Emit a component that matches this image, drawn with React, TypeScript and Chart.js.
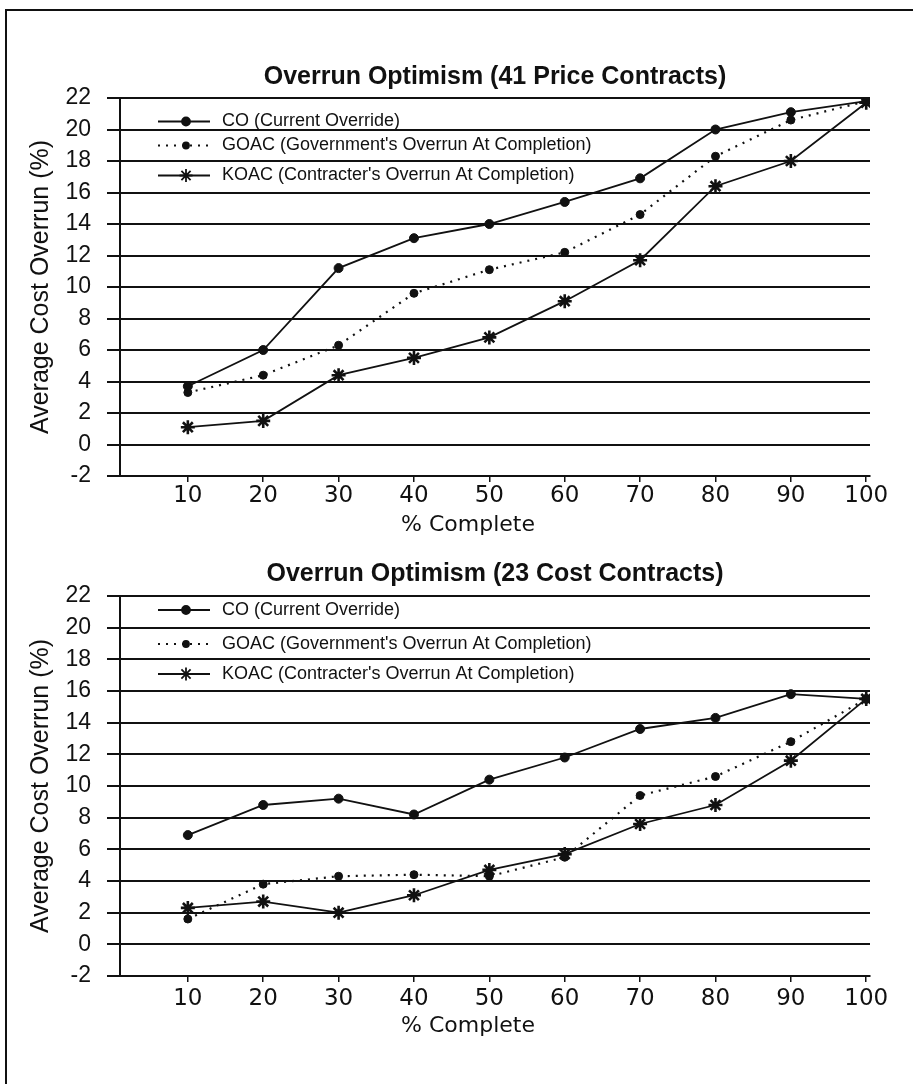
import { useEffect, useRef } from "react";
import { Chart, registerables } from "chart.js";
import type { Plugin } from "chart.js";
import { drawPoint } from "chart.js/helpers";

Chart.register(...registerables);

// values
const percentComplete = [10, 20, 30, 40, 50, 60, 70, 80, 90, 100];

const seriesLabels = [
	"CO (Current Override)",
	"GOAC (Government's Overrun At Completion)",
	"KOAC (Contracter's Overrun At Completion)",
];

const priceCO = [3.7, 6.0, 11.2, 13.1, 14.0, 15.4, 16.9, 20.0, 21.1, 21.8];
const priceGOAC = [3.3, 4.4, 6.3, 9.6, 11.1, 12.2, 14.6, 18.3, 20.6, 21.8];
const priceKOAC = [1.1, 1.5, 4.4, 5.5, 6.8, 9.1, 11.7, 16.4, 18.0, 21.7];

const costCO = [6.9, 8.8, 9.2, 8.2, 10.4, 11.8, 13.6, 14.3, 15.8, 15.5];
const costGOAC = [1.6, 3.8, 4.3, 4.4, 4.3, 5.5, 9.4, 10.6, 12.8, 15.5];
const costKOAC = [2.3, 2.7, 2.0, 3.1, 4.7, 5.7, 7.6, 8.8, 11.6, 15.5];

const yMin = -2;
const yMax = 22;
const yStep = 2;

const INK = "#111";

const toPoints = (values: number[]) => percentComplete.map((x, i) => ({ x, y: values[i] }));

// legend drawn inside the plot, line sample + marker + text
const insideLegend: Plugin = {
	id: "insideLegend",
	afterDatasetsDraw(chart, _args, opts: any) {
		const { ctx, chartArea } = chart;
		ctx.save();
		chart.data.datasets.forEach((ds: any, i) => {
			const y = chartArea.top + opts.rows[i];
			const x0 = chartArea.left + 38;
			const x1 = chartArea.left + 90;
			ctx.strokeStyle = INK;
			ctx.fillStyle = INK;
			ctx.lineWidth = ds.borderWidth;
			ctx.setLineDash(ds.borderDash || []);
			ctx.beginPath();
			ctx.moveTo(x0, y);
			ctx.lineTo(x1, y);
			ctx.stroke();
			ctx.setLineDash([]);
			drawPoint(
				ctx,
				{
					pointStyle: ds.pointStyle,
					radius: ds.legendRadius,
					rotation: 0,
					borderWidth: ds.pointBorderWidth,
				},
				chartArea.left + 66,
				y,
			);
			ctx.font = "18px 'Liberation Sans', Arial, sans-serif";
			ctx.textAlign = "left";
			ctx.textBaseline = "middle";
			ctx.fillText(ds.label, chartArea.left + 102, y);
		});
		ctx.restore();
	},
};

const xAxisTitle: Plugin = {
	id: "xAxisTitle",
	afterDraw(chart, _args, opts: any) {
		const { ctx, chartArea } = chart;
		ctx.save();
		ctx.fillStyle = INK;
		ctx.font = "22px 'DejaVu Sans', sans-serif";
		ctx.textAlign = "center";
		ctx.textBaseline = "alphabetic";
		ctx.fillText(opts.text, (chartArea.left + chartArea.right) / 2 - 27, chartArea.bottom + opts.offset);
		ctx.restore();
	},
};

interface OverrunChartProps {
	title: string;
	co: number[];
	goac: number[];
	koac: number[];
	top: number;
	titlePadding: { top: number; bottom: number };
	legendRows: number[];
	tickPadding: number;
	xTitleOffset: number;
}

function OverrunChart({ title, co, goac, koac, top, titlePadding, legendRows, tickPadding, xTitleOffset }: OverrunChartProps) {
	const canvasRef = useRef<HTMLCanvasElement | null>(null);

	useEffect(() => {
		if (!canvasRef.current) {
			return;
		}

		const chart = new Chart(canvasRef.current, {
			type: "line",
			data: {
				datasets: [
					{
						label: seriesLabels[0],
						data: toPoints(co),
						borderColor: INK,
						backgroundColor: INK,
						borderWidth: 1.8,
						pointStyle: "circle",
						pointRadius: 4.5,
						pointBorderWidth: 1,
						legendRadius: 4,
					} as any,
					{
						label: seriesLabels[1],
						data: toPoints(goac),
						borderColor: INK,
						backgroundColor: INK,
						borderWidth: 2.2,
						borderDash: [2, 6],
						pointStyle: "circle",
						pointRadius: 4,
						pointBorderWidth: 1,
						legendRadius: 2.8,
					} as any,
					{
						label: seriesLabels[2],
						data: toPoints(koac),
						borderColor: INK,
						backgroundColor: INK,
						borderWidth: 1.8,
						pointStyle: "star",
						pointRadius: 7,
						pointBorderWidth: 2.6,
						legendRadius: 6.5,
					} as any,
				],
			},
			options: {
				animation: false,
				responsive: true,
				maintainAspectRatio: false,
				layout: { padding: { left: 0, right: 43, top: 0, bottom: 0 } },
				elements: { line: { tension: 0 } },
				scales: {
					x: {
						type: "linear",
						min: 1,
						max: 100.5,
						afterBuildTicks: (scale: any) => {
							scale.ticks = percentComplete.map((value) => ({ value }));
						},
						afterFit: (scale: any) => {
							scale.height = 64;
						},
						grid: {
							drawOnChartArea: false,
							drawTicks: true,
							tickLength: 6,
							color: INK,
							lineWidth: 1.5,
						},
						border: { display: true, color: INK, width: 2 },
						ticks: {
							color: INK,
							padding: tickPadding,
							font: { family: "'DejaVu Sans', sans-serif", size: 23 },
						},
					},
					y: {
						min: yMin,
						max: yMax,
						afterFit: (scale: any) => {
							scale.width = 120;
						},
						grid: {
							color: INK,
							lineWidth: 2,
							drawTicks: true,
							tickLength: 13,
						},
						border: { display: true, color: INK, width: 2 },
						ticks: {
							stepSize: yStep,
							color: INK,
							padding: 16,
							font: { family: "'Liberation Sans', Arial, sans-serif", size: 23 },
						},
						title: {
							display: true,
							text: "Average Cost Overrun (%)",
							color: INK,
							padding: { top: 26, bottom: 0 },
							font: { family: "'Liberation Sans', Arial, sans-serif", size: 25 },
						},
					},
				},
				plugins: {
					legend: { display: false },
					tooltip: { enabled: false },
					title: {
						display: true,
						text: title,
						color: INK,
						fullSize: false,
						padding: titlePadding,
						font: { family: "'Liberation Sans', Arial, sans-serif", size: 25, weight: "bold" },
					},
					insideLegend: { rows: legendRows },
					xAxisTitle: { text: "% Complete", offset: xTitleOffset },
				} as any,
			},
			plugins: [insideLegend, xAxisTitle],
		});

		return () => {
			chart.destroy();
		};
	}, [title, co, goac, koac, titlePadding, legendRows, tickPadding, xTitleOffset]);

	return (
		<div style={{ position: "absolute", left: 0, top, width: 913, height: 500 }}>
			<canvas ref={canvasRef} aria-label={title} />
		</div>
	);
}

const topTitlePadding = { top: 21.7, bottom: 6.3 };
const bottomTitlePadding = { top: 19.5, bottom: 6.5 };
const topLegendRows = [23.5, 47.5, 77.5];
const bottomLegendRows = [14, 48, 78];

export default function App() {
	return (
		<div style={{ position: "absolute", left: 0, top: 0, width: 913, height: 1084, background: "#fff", overflow: "hidden" }}>
			<div
				style={{
					position: "absolute",
					left: 5,
					top: 9,
					right: 0,
					bottom: 0,
					borderTop: `2px solid ${INK}`,
					borderLeft: `2px solid ${INK}`,
				}}
			/>
			<OverrunChart
				title="Overrun Optimism (41 Price Contracts)"
				co={priceCO}
				goac={priceGOAC}
				koac={priceKOAC}
				top={40}
				titlePadding={topTitlePadding}
				legendRows={topLegendRows}
				tickPadding={0}
				xTitleOffset={55}
			/>
			<OverrunChart
				title="Overrun Optimism (23 Cost Contracts)"
				co={costCO}
				goac={costGOAC}
				koac={costKOAC}
				top={540}
				titlePadding={bottomTitlePadding}
				legendRows={bottomLegendRows}
				tickPadding={3}
				xTitleOffset={56}
			/>
		</div>
	);
}
